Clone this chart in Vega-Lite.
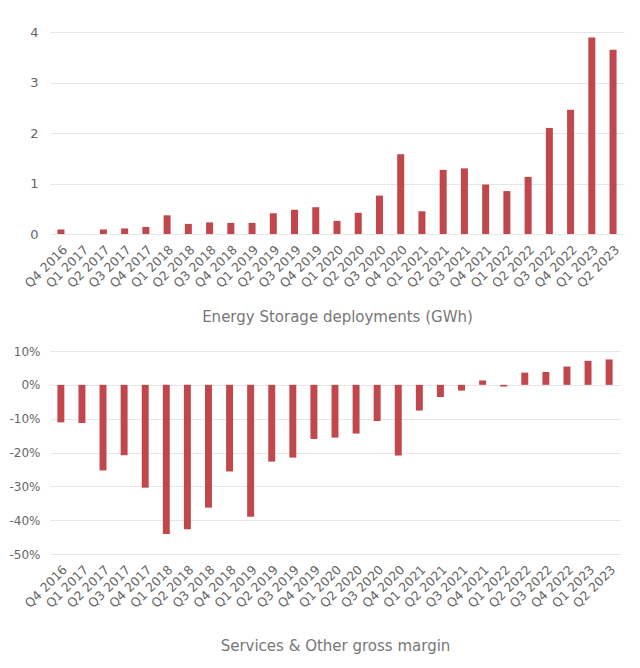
{
  "$schema": "https://vega.github.io/schema/vega-lite/v6.json",
  "background": "white",
  "padding": {"left": 8, "top": 26, "right": 14, "bottom": 5},
  "config": {
    "view": {"stroke": null},
    "font": "DejaVu Sans",
    "axis": {
      "labelColor": "#666666",
      "titleColor": "#777777",
      "labelFont": "DejaVu Sans",
      "titleFont": "DejaVu Sans",
      "titleFontWeight": "normal",
      "labelFontSize": 12.5,
      "titleFontSize": 15,
      "domain": false,
      "ticks": false,
      "gridColor": "#e6e6e6",
      "gridWidth": 1
    }
  },
  "data": {
    "values": [
      {"quarter": "Q4 2016", "storage": 0.09, "margin": -11.1},
      {"quarter": "Q1 2017", "storage": 0, "margin": -11.3},
      {"quarter": "Q2 2017", "storage": 0.09, "margin": -25.3},
      {"quarter": "Q3 2017", "storage": 0.11, "margin": -20.8},
      {"quarter": "Q4 2017", "storage": 0.14, "margin": -30.4},
      {"quarter": "Q1 2018", "storage": 0.37, "margin": -44.1},
      {"quarter": "Q2 2018", "storage": 0.2, "margin": -42.7},
      {"quarter": "Q3 2018", "storage": 0.23, "margin": -36.3},
      {"quarter": "Q4 2018", "storage": 0.22, "margin": -25.6},
      {"quarter": "Q1 2019", "storage": 0.22, "margin": -39.0},
      {"quarter": "Q2 2019", "storage": 0.41, "margin": -22.7},
      {"quarter": "Q3 2019", "storage": 0.48, "margin": -21.5},
      {"quarter": "Q4 2019", "storage": 0.53, "margin": -16.0},
      {"quarter": "Q1 2020", "storage": 0.26, "margin": -15.6},
      {"quarter": "Q2 2020", "storage": 0.42, "margin": -14.4},
      {"quarter": "Q3 2020", "storage": 0.76, "margin": -10.7},
      {"quarter": "Q4 2020", "storage": 1.58, "margin": -20.9},
      {"quarter": "Q1 2021", "storage": 0.45, "margin": -7.6},
      {"quarter": "Q2 2021", "storage": 1.27, "margin": -3.6},
      {"quarter": "Q3 2021", "storage": 1.3, "margin": -1.7},
      {"quarter": "Q4 2021", "storage": 0.98, "margin": 1.3},
      {"quarter": "Q1 2022", "storage": 0.85, "margin": -0.5},
      {"quarter": "Q2 2022", "storage": 1.13, "margin": 3.6},
      {"quarter": "Q3 2022", "storage": 2.1, "margin": 3.8},
      {"quarter": "Q4 2022", "storage": 2.46, "margin": 5.4},
      {"quarter": "Q1 2023", "storage": 3.89, "margin": 7.1},
      {"quarter": "Q2 2023", "storage": 3.65, "margin": 7.5}
    ]
  },
  "spacing": 20,
  "vconcat": [
    {
      "width": 574,
      "height": 202,
      "mark": {"type": "bar", "color": "#c1474d"},
      "encoding": {
        "x": {
          "field": "quarter",
          "type": "ordinal",
          "sort": null,
          "scale": {"paddingInner": 0.67, "paddingOuter": 0.35},
          "axis": {
            "title": "Energy Storage deployments (GWh)",
            "labelAngle": -45,
            "labelPadding": 9,
            "titlePadding": 20,
            "grid": false
          }
        },
        "y": {
          "field": "storage",
          "type": "quantitative",
          "scale": {"domain": [0, 4], "nice": false},
          "axis": {
            "title": null,
            "values": [0, 1, 2, 3, 4],
            "labelPadding": 12,
            "labelFontSize": 13,
            "grid": true
          }
        }
      }
    },
    {
      "width": 570,
      "height": 203,
      "mark": {"type": "bar", "color": "#c1474d"},
      "encoding": {
        "x": {
          "field": "quarter",
          "type": "ordinal",
          "sort": null,
          "scale": {"paddingInner": 0.67, "paddingOuter": 0.35},
          "axis": {
            "title": "Services & Other gross margin",
            "labelAngle": -45,
            "labelPadding": 9,
            "titlePadding": 29,
            "grid": false
          }
        },
        "y": {
          "field": "margin",
          "type": "quantitative",
          "scale": {"domain": [-50, 10], "nice": false},
          "axis": {
            "title": null,
            "values": [-50, -40, -30, -20, -10, 0, 10],
            "labelExpr": "datum.value + '%'",
            "labelPadding": 10,
            "labelFontSize": 12,
            "grid": true
          }
        }
      }
    }
  ]
}
